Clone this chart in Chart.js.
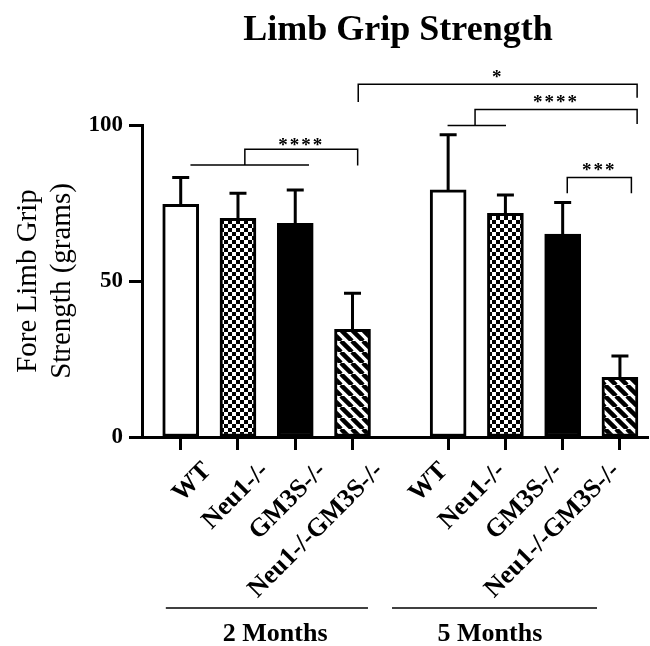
<!DOCTYPE html>
<html>
<head>
<meta charset="utf-8">
<script src="https://cdn.jsdelivr.net/npm/chart.js@4.4.1/dist/chart.umd.min.js"></script>
<style>
	html, body { margin: 0; padding: 0; background: #fff; }
	#wrap { width: 650px; height: 646px; }
</style>
</head>
<body>
<div id="wrap"><canvas id="gripChart"></canvas></div>
<script>
// Data
const genotypes = ["WT", "Neu1-/-", "GM3S-/-", "Neu1-/-GM3S-/-"];
const barLabels = genotypes.concat(genotypes);
const barPositions = [1, 2, 3, 4, 5.67, 6.67, 7.67, 8.67];
const gripMean = [74.6, 70.1, 68.5, 34.5, 79.2, 71.7, 65.0, 19.1];
const gripErr = [8.6, 8.0, 10.7, 11.6, 17.7, 5.9, 10.2, 6.9];
const yTicks = [0, 50, 100];

// age groups under the axis
const ageNames = ["2 Months", "5 Months"];
const ageLineFrom = [0.74, 4.69];
const ageLineTo = [4.27, 8.27];
const ageTextAt = [2.65, 6.4];

// significance brackets (x in bar units, y in grams)
const sigText = ["****", "*", "****", "***"];
const sigLeft = [2.12, 4.10, 6.14, 7.75];
const sigRight = [4.09, 8.97, 8.97, 8.87];
const sigTop = [92.2, 113.1, 105.0, 83.2];
const sigLeftEnd = [87.2, 107.4, 99.8, 78.1];
const sigRightEnd = [87.0, 108.7, 100.3, 78.1];
const sigTextY = [95.0, 116.7, 108.8, 86.9];
// short line joining two compared bars under the left leg
const sigJoinFrom = [1.17, null, 5.66, null];
const sigJoinTo = [3.24, null, 6.68, null];

const SERIF = "'Liberation Serif', 'Times New Roman', serif";

// the rotated names sit a little right of the ticks in the first group, and a little left in the second
const labelAnchors = barPositions.map((p, i) => p + (i < 4 ? 0.47 : -0.07));

function checkerPattern() {
	const c = document.createElement("canvas");
	c.width = 8; c.height = 8;
	const g = c.getContext("2d");
	g.fillStyle = "#fff";
	g.fillRect(0, 0, 8, 8);
	g.fillStyle = "#000";
	g.fillRect(0, 0, 4, 4);
	g.fillRect(4, 4, 4, 4);
	return g.createPattern(c, "repeat");
}

function stripePattern() {
	const s = 11;
	const c = document.createElement("canvas");
	c.width = s; c.height = s;
	const g = c.getContext("2d");
	g.fillStyle = "#fff";
	g.fillRect(0, 0, s, s);
	g.strokeStyle = "#000";
	g.lineWidth = 4.5;
	for (const o of [-s, 0, s]) {
		g.beginPath();
		g.moveTo(o, 0);
		g.lineTo(o + s, s);
		g.stroke();
	}
	return g.createPattern(c, "repeat");
}

const fillsOne = ["#fff", checkerPattern(), "#000", stripePattern()];
const barFills = fillsOne.concat(fillsOne);

const errorBarPlugin = {
	id: "errorBars",
	afterDatasetsDraw(chart) {
		const ctx = chart.ctx;
		const y = chart.scales.y;
		const meta = chart.getDatasetMeta(0);
		ctx.save();
		ctx.strokeStyle = "#000";
		ctx.lineWidth = 3;
		meta.data.forEach(function (bar, i) {
			const top = y.getPixelForValue(gripMean[i] + gripErr[i]);
			ctx.beginPath();
			ctx.moveTo(bar.x, bar.y);
			ctx.lineTo(bar.x, top);
			ctx.moveTo(bar.x - 8.5, top);
			ctx.lineTo(bar.x + 8.5, top);
			ctx.stroke();
		});
		ctx.restore();
	}
};

const annotationPlugin = {
	id: "annotations",
	afterDraw(chart) {
		const ctx = chart.ctx;
		const x = chart.scales.x;
		const y = chart.scales.y;
		const area = chart.chartArea;
		const px = v => x.getPixelForValue(v);
		const py = v => y.getPixelForValue(v);
		ctx.save();
		ctx.strokeStyle = "#000";
		ctx.fillStyle = "#000";

		// title, centred over the plot area
		ctx.font = "bold 36px " + SERIF;
		ctx.textAlign = "center";
		ctx.textBaseline = "alphabetic";
		ctx.fillText("Limb Grip Strength", (area.left + area.right) / 2 + 3, 40);

		// brackets
		ctx.lineWidth = 1.5;
		sigText.forEach(function (txt, i) {
			ctx.beginPath();
			ctx.moveTo(px(sigLeft[i]), py(sigLeftEnd[i]));
			ctx.lineTo(px(sigLeft[i]), py(sigTop[i]));
			ctx.lineTo(px(sigRight[i]), py(sigTop[i]));
			ctx.lineTo(px(sigRight[i]), py(sigRightEnd[i]));
			if (sigJoinFrom[i] !== null) {
				ctx.moveTo(px(sigJoinFrom[i]), py(sigLeftEnd[i]));
				ctx.lineTo(px(sigJoinTo[i]), py(sigLeftEnd[i]));
			}
			ctx.stroke();
			ctx.font = "bold 19px " + SERIF;
			ctx.letterSpacing = "2px";
			ctx.fillText(txt, px((sigLeft[i] + sigRight[i]) / 2), py(sigTextY[i]) + 10);
		});

		// age group lines and names
		ctx.letterSpacing = "0px";
		const lineY = area.bottom + 171;
		ageNames.forEach(function (name, i) {
			ctx.beginPath();
			ctx.moveTo(px(ageLineFrom[i]), lineY);
			ctx.lineTo(px(ageLineTo[i]), lineY);
			ctx.stroke();
			ctx.font = "bold 26px " + SERIF;
			ctx.fillText(name, px(ageTextAt[i]), lineY + 33);
		});
		ctx.restore();
	}
};

const X_MIN = 0.324;
const X_MAX = 9.16;

new Chart(document.getElementById("gripChart"), {
	type: "bar",
	data: {
		datasets: [
			{
				data: barPositions.map((p, i) => ({ x: p, y: gripMean[i] })),
				backgroundColor: barFills,
				borderColor: "#000",
				borderWidth: 3,
				borderSkipped: false,
				barThickness: 36,
			},
		],
	},
	options: {
		animation: false,
		responsive: true,
		maintainAspectRatio: false,
		devicePixelRatio: 1,
		layout: { padding: { left: 0, right: 2, top: 125, bottom: 0 } },
		plugins: {
			legend: { display: false },
			tooltip: { enabled: false },
			title: { display: false },
		},
		scales: {
			// tick marks under each bar
			xMarks: {
				type: "linear",
				position: "bottom",
				weight: 0,
				min: X_MIN,
				max: X_MAX,
				offset: false,
				grid: {
					offset: false,
					drawOnChartArea: false,
					drawTicks: true,
					tickLength: 13,
					tickWidth: 3,
					tickColor: "#000",
				},
				border: { display: false },
				ticks: { display: false },
				afterBuildTicks: s => { s.ticks = barPositions.map(v => ({ value: v })); },
				afterFit: s => { s.height = 0; s.paddingLeft = 0; s.paddingRight = 0; },
			},
			// axis line and rotated genotype names
			x: {
				type: "linear",
				position: "bottom",
				weight: 1,
				min: X_MIN,
				max: X_MAX,
				offset: false,
				grid: {
					offset: false,
					drawOnChartArea: false,
					drawTicks: true,
					tickLength: 13,
					tickColor: "rgba(0,0,0,0)",
				},
				border: { display: true, width: 3, color: "#000" },
				ticks: {
					autoSkip: false,
					minRotation: 45,
					maxRotation: 45,
					color: "#000",
					padding: 6,
					font: { family: SERIF, size: 26, weight: "bold" },
					callback: (v, i) => barLabels[i],
				},
				afterBuildTicks: s => { s.ticks = labelAnchors.map(v => ({ value: v })); },
				afterFit: s => { s.height = 209; s.paddingLeft = 0; s.paddingRight = 0; },
			},
			y: {
				min: 0,
				max: 100,
				grid: {
					drawOnChartArea: false,
					drawTicks: true,
					tickLength: 13,
					tickWidth: 3,
					tickColor: "#000",
				},
				border: { display: true, width: 3, color: "#000" },
				ticks: {
					color: "#000",
					padding: 6,
					font: { family: SERIF, size: 23, weight: "bold" },
				},
				afterBuildTicks: s => { s.ticks = yTicks.map(v => ({ value: v })); },
				afterFit: s => { s.width = 142; s.paddingTop = 0; },
				title: {
					display: true,
					text: ["Fore Limb Grip", "Strength (grams)"],
					color: "#000",
					font: { family: SERIF, size: 29, lineHeight: 34 / 29 },
					padding: { top: 11, bottom: 0 },
				},
			},
		},
	},
	plugins: [errorBarPlugin, annotationPlugin],
});
</script>
</body>
</html>
